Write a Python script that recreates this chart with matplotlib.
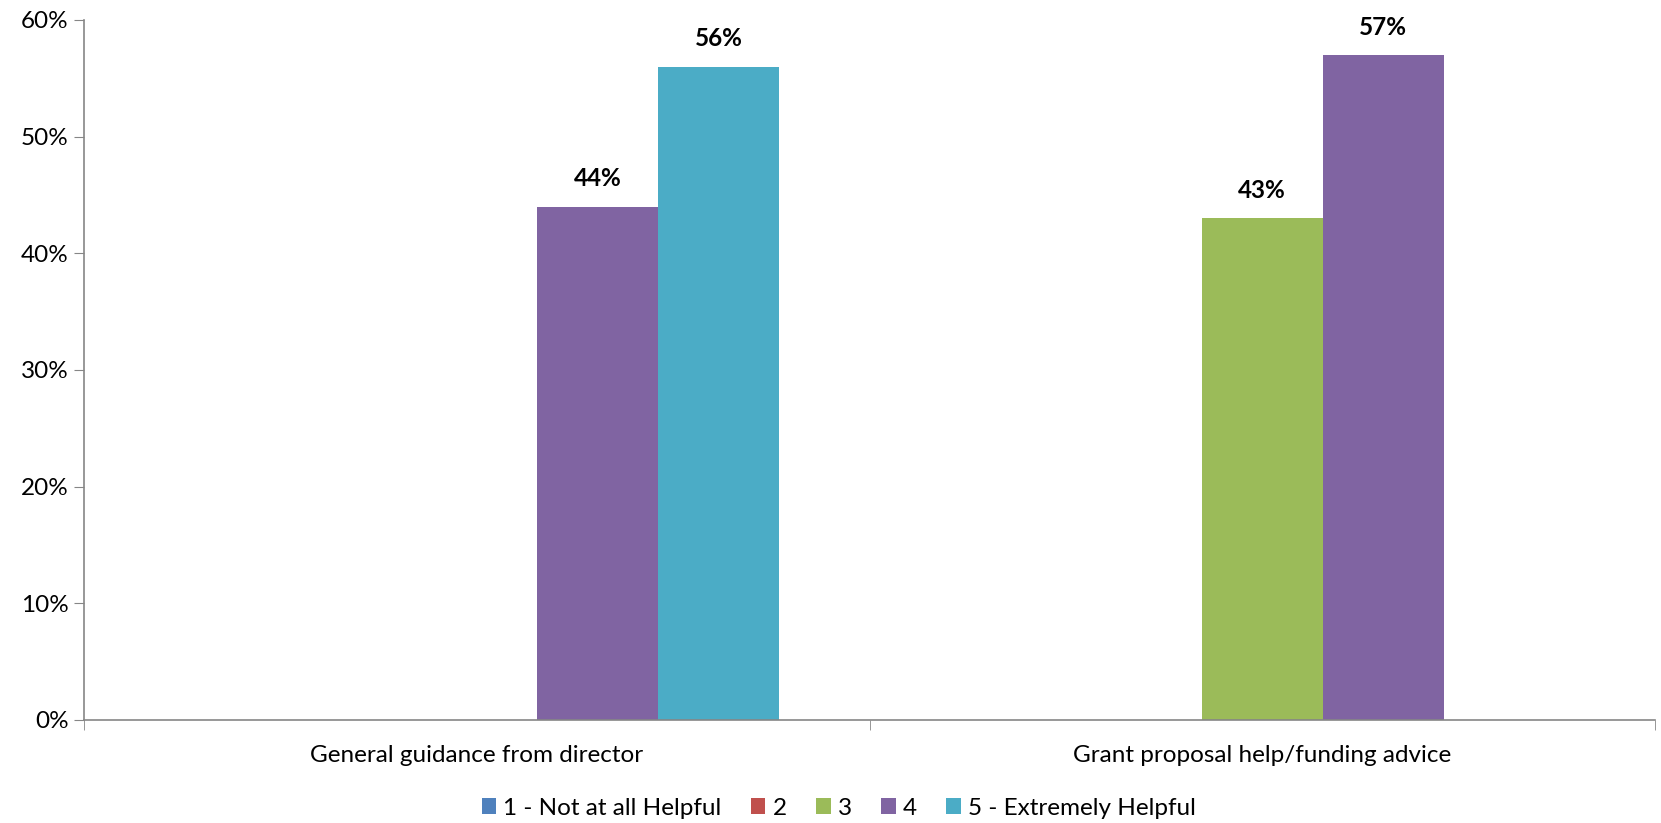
import matplotlib.pyplot as plt
from matplotlib.ticker import PercentFormatter
import numpy as np

plt.rcParams['font.family'] = ['Lato', 'DejaVu Sans']

categories = ['General guidance from director', 'Grant proposal help/funding advice']
series_names = ['1 - Not at all Helpful', '2', '3', '4', '5 - Extremely Helpful']
values = {
    '1 - Not at all Helpful': [0, 0],
    '2': [0, 0],
    '3': [0, 43],
    '4': [44, 57],
    '5 - Extremely Helpful': [56, 0],
}
colors = ['#4F81BD', '#C0504D', '#9BBB59', '#8064A2', '#4BACC6']

fig = plt.figure(figsize=(16.61, 8.23), dpi=100)
ax = fig.add_axes([0.0506, 0.1252, 0.9458, 0.8505])

x = np.arange(len(categories))
w = 0.154
for i, name in enumerate(series_names):
    vals = values[name]
    pos = x + (i - 2) * w
    ax.bar(pos, vals, width=w, color=colors[i], label=name)
    for p, v in zip(pos, vals):
        if v > 0:
            ax.text(p, v + 1.4, f'{v}%', ha='center', va='bottom',
                    fontsize=17.5, fontweight='bold')

ax.set_xlim(-0.5, len(categories) - 0.5)
ax.set_ylim(0, 60)
ax.set_yticks(np.arange(0, 61, 10))
ax.yaxis.set_major_formatter(PercentFormatter(decimals=0))
ax.set_xticks(x)
ax.set_xticklabels(categories, fontsize=17.5)
ax.set_xticks(np.arange(-0.5, len(categories)), minor=True)
ax.tick_params(axis='x', which='major', length=0, pad=18)
ax.tick_params(axis='x', which='minor', length=7, color='#868686', direction='out')
ax.tick_params(axis='y', length=7, color='#868686', labelsize=17.5, pad=4)

for s in ['top', 'right']:
    ax.spines[s].set_visible(False)
for s in ['left', 'bottom']:
    ax.spines[s].set_color('#868686')
    ax.spines[s].set_linewidth(1.2)

ax.legend(loc='center', bbox_to_anchor=(0.505, 0.018), bbox_transform=fig.transFigure,
          ncol=5, frameon=False, fontsize=17.5, handlelength=0.6, handleheight=0.6,
          handletextpad=0.3, columnspacing=1.2, borderpad=0)

fig.savefig('out.png', dpi=100)
